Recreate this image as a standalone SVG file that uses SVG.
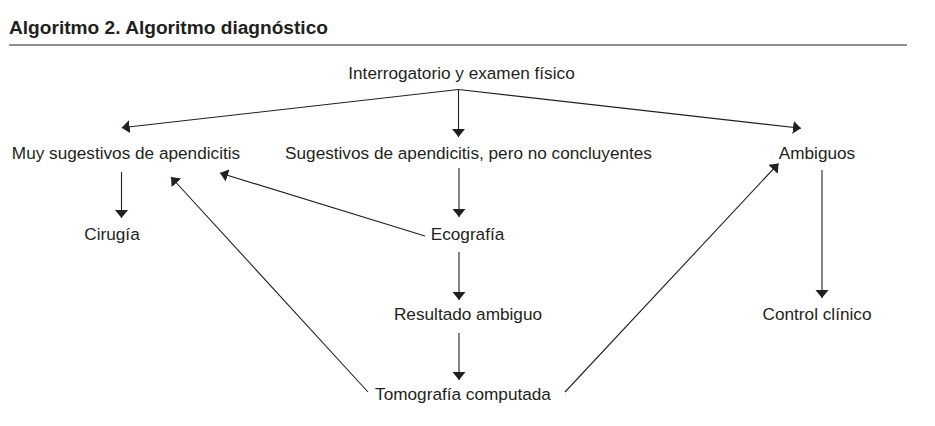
<svg xmlns="http://www.w3.org/2000/svg" width="935" height="426" viewBox="0 0 935 426">
<style>
.t{font-family:"Liberation Sans",Arial,sans-serif;font-size:17.2px;fill:#231f20;text-anchor:middle}
.h{font-family:"Liberation Sans",Arial,sans-serif;font-size:18px;font-weight:bold;fill:#231f20}
.c{stroke:#231f20;stroke-width:1.1;fill:none;marker-end:url(#ah)}
</style>
<defs>
<marker id="ah" markerUnits="userSpaceOnUse" markerWidth="10" markerHeight="14" refX="8" refY="6.5" orient="auto" viewBox="0 0 10 14">
<path d="M0,0 L8,6.5 L0,13 z" fill="#231f20"/>
</marker>
</defs>
<g id="title">
<text class="h" x="9" y="34" textLength="319" lengthAdjust="spacingAndGlyphs">Algoritmo 2. Algoritmo diagnóstico</text>
<line x1="9" y1="45" x2="907" y2="45" stroke="#231f20" stroke-width="1.2"/>
</g>
<g id="n-interrogatorio"><text class="t" x="461.5" y="79">Interrogatorio y examen físico</text></g>
<g id="n-muy"><text class="t" x="126" y="159">Muy sugestivos de apendicitis</text></g>
<g id="n-sugestivos"><text class="t" x="468.5" y="159">Sugestivos de apendicitis, pero no concluyentes</text></g>
<g id="n-ambiguos"><text class="t" x="817" y="159">Ambiguos</text></g>
<g id="n-cirugia"><text class="t" x="112" y="240">Cirugía</text></g>
<g id="n-ecografia"><text class="t" x="467.5" y="240">Ecografía</text></g>
<g id="n-resultado"><text class="t" x="468" y="320">Resultado ambiguo</text></g>
<g id="n-control"><text class="t" x="817" y="320">Control clínico</text></g>
<g id="n-tomografia"><text class="t" x="463" y="400">Tomografía computada</text></g>
<g id="connectors">
<line class="c" x1="458.5" y1="89.5" x2="121.7" y2="127.7"/>
<line class="c" x1="458.5" y1="89.5" x2="458.5" y2="137"/>
<line class="c" x1="458.5" y1="89.5" x2="801" y2="128.3"/>
<line class="c" x1="121.5" y1="172" x2="121.5" y2="218"/>
<line class="c" x1="459" y1="168" x2="459" y2="217"/>
<line class="c" x1="425" y1="236" x2="220" y2="173"/>
<line class="c" x1="459" y1="252" x2="459" y2="300"/>
<line class="c" x1="459" y1="333" x2="459" y2="380"/>
<line class="c" x1="368" y1="392" x2="171" y2="177"/>
<line class="c" x1="565" y1="392" x2="778.5" y2="163.5"/>
<line class="c" x1="822" y1="170" x2="822" y2="298"/>
</g>
</svg>
